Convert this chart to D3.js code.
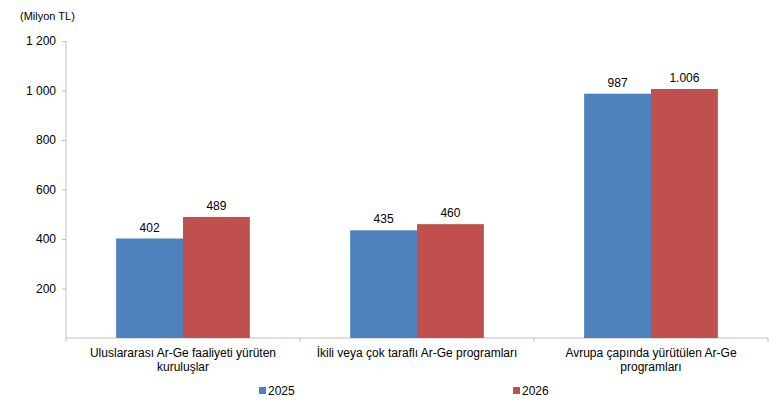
<!DOCTYPE html>
<html>
<head>
<meta charset="utf-8">
<script src="https://cdn.jsdelivr.net/npm/d3@7"></script>
<style>
body { margin: 0; background: #fff; }
text { font-family: "Liberation Sans", Arial, sans-serif; fill: #000; }
</style>
</head>
<body>
<div id="chart"></div>
<script>
const categories = [
    ['Uluslararası Ar-Ge faaliyeti yürüten', 'kuruluşlar'],
    ['İkili veya çok taraflı Ar-Ge programları'],
    ['Avrupa çapında yürütülen Ar-Ge', 'programları'],
];
const series = ['2025', '2026'];
const values2025 = [402, 435, 987];
const values2026 = [489, 460, 1006];
const valueLabels2025 = ['402', '435', '987'];
const valueLabels2026 = ['489', '460', '1.006'];
const yTicks = [200, 400, 600, 800, 1000, 1200];
const yTickLabels = ['200', '400', '600', '800', '1 000', '1 200'];
const colors = ['#4f81bd', '#c0504d'];

const W = 782, H = 406;
const plotLeft = 66, plotRight = 768, plotTop = 41, plotBottom = 338;

const svg = d3.select('#chart')
    .append('svg')
    .attr('width', W)
    .attr('height', H);

// Y ekseni
const y = d3.scaleLinear()
    .domain([0, 1200])
    .range([plotBottom, plotTop]);

const x = d3.scaleBand()
    .domain(d3.range(categories.length))
    .range([plotLeft, plotRight]);

const inner = d3.scaleBand()
    .domain(series)
    .range([0, x.bandwidth()])
    .paddingInner(0)
    .paddingOuter(0.75);

const yAxis = svg.append('g')
    .attr('transform', `translate(${plotLeft},0)`)
    .call(d3.axisLeft(y)
        .tickValues(yTicks)
        .tickSize(4)
        .tickPadding(6)
        .tickFormat((d, i) => yTickLabels[i]));
yAxis.select('.domain').attr('stroke', '#bfbfbf').attr('d', `M0,${plotBottom}V${plotTop}`);
yAxis.selectAll('line').attr('stroke', '#bfbfbf');
yAxis.selectAll('text').attr('font-size', 12).attr('font-family', '"Liberation Sans", Arial, sans-serif');

// X ekseni
const xAxis = svg.append('g')
    .attr('transform', `translate(0,${plotBottom})`);
xAxis.append('line')
    .attr('x1', plotLeft).attr('x2', plotRight)
    .attr('stroke', '#bfbfbf');
xAxis.selectAll('.tick')
    .data(d3.range(categories.length + 1))
    .enter()
    .append('line')
    .attr('x1', (d) => plotLeft + d * x.step())
    .attr('x2', (d) => plotLeft + d * x.step())
    .attr('y2', 4)
    .attr('stroke', '#bfbfbf');

// Barlar
const groups = svg.selectAll('.grp')
    .data(categories)
    .enter()
    .append('g')
    .attr('transform', (d, i) => `translate(${x(i)},0)`);

const allValues = [values2025, values2026];
const allLabels = [valueLabels2025, valueLabels2026];

series.forEach((s, k) => {
    groups.append('rect')
        .attr('x', inner(s))
        .attr('y', (d, i) => y(allValues[k][i]))
        .attr('width', inner.bandwidth())
        .attr('height', (d, i) => plotBottom - y(allValues[k][i]))
        .attr('fill', colors[k]);
    groups.append('text')
        .attr('x', inner(s) + inner.bandwidth() / 2)
        .attr('y', (d, i) => y(allValues[k][i]) - 7)
        .attr('text-anchor', 'middle')
        .attr('font-size', 12)
        .text((d, i) => allLabels[k][i]);
});

// Kategori etiketleri
groups.append('text')
    .attr('x', x.bandwidth() / 2)
    .attr('y', 357)
    .attr('text-anchor', 'middle')
    .attr('font-size', 12)
    .selectAll('tspan')
    .data((d) => d)
    .enter()
    .append('tspan')
    .attr('x', x.bandwidth() / 2)
    .attr('dy', (d, i) => i === 0 ? 0 : 14)
    .text((d) => d);

// Lejant
const legendX = [259, 513];
series.forEach((s, k) => {
    svg.append('rect')
        .attr('x', legendX[k])
        .attr('y', 387)
        .attr('width', 7)
        .attr('height', 7)
        .attr('fill', colors[k]);
    svg.append('text')
        .attr('x', legendX[k] + 9)
        .attr('y', 395)
        .attr('font-size', 12)
        .text(s);
});

// Birim
svg.append('text')
    .attr('x', 20)
    .attr('y', 20)
    .attr('font-size', 11)
    .text('(Milyon TL)');
</script>
</body>
</html>
